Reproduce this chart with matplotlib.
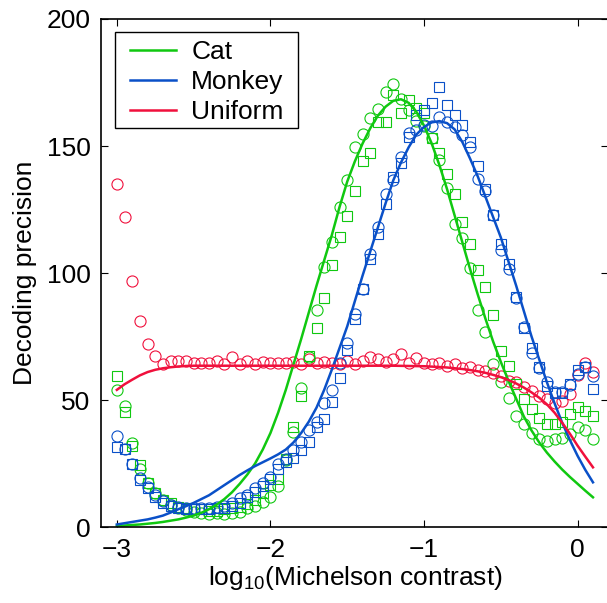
import numpy as np
import matplotlib
matplotlib.use('Agg')
import matplotlib.pyplot as plt
from matplotlib.patches import Rectangle

plt.rcParams['font.family'] = ['Liberation Sans', 'DejaVu Sans']
plt.rcParams['mathtext.default'] = 'regular'

# measurement grid, log10 contrast (-3.0 ... 0.1 in steps of 0.05)
contrast = np.linspace(-3.0, 0.1, 63)

uniform_pts = [135, 122, 97, 81, 72, 67.5, 64, 65.5, 65.5, 65.5,
               64.5, 64.5, 64.5, 65.5, 64, 67, 64, 65.5, 64, 65,
               64.5, 64.5, 64.5, 65, 64, 66, 64.5, 65, 64.5, 64,
               65.5, 64, 65.5, 67, 66, 65, 66, 68, 64.5, 66.5,
               64.5, 64, 64.5, 63.5, 64, 62.5, 63, 62, 61.5, 60.5,
               59.5, 57.5, 57, 55, 53.5, 51.5, 50.5, 49, 49.5, 52.5,
               60, 64.5, 61]

cat_circ = [54, 47.5, 33, 22.7, 17.2, 13.3, 10.6, 8.7, 7.4, 6.7,
            6, 5.4, 5, 5.4, 5.1, 5.4, 6, 7.4, 8.3, 10,
            12, 16, 26.4, 37.5, 54.6, 67, 85.4, 102.5, 112.3, 126,
            136.6, 149.5, 154.7, 160.9, 164.4, 171.4, 174.4, 168.4, 164.2, 160,
            158, 153, 144.5, 133.3, 119.3, 113.9, 101.8, 85.4, 76.9, 64.3,
            57, 50.7, 43.7, 40.6, 37.1, 34.5, 34, 34.5, 34.9, 36.6,
            39.5, 38.2, 34.5]

cat_sq = [59.4, 45.4, 31.9, 24.4, 17.4, 13.3, 10.6, 9.3, 8, 7.5,
          7, 7, 6.5, 6.5, 7, 7.5, 8, 9, 10.5, 13.3,
          16.5, 18.8, 26.7, 39.5, 51.6, 67.3, 78.2, 90.3, 103.3, 114.3,
          122.4, 132.4, 144.2, 147.4, 159.3, 159.3, 170, 163, 168.2, 165,
          163, 153, 147.4, 139, 131.3, 120.2, 111.5, 101.2, 94.4, 83.4,
          69.4, 63.4, 56.3, 50.4, 46.4, 42.8, 40.6, 40.7, 41.5, 44.6,
          47.4, 45.6, 43.7]

monkey_circ = [35.7, 30.6, 24.8, 19.2, 15.6, 12.6, 10.4, 8.7, 8, 7.4,
               7.4, 7.4, 7.6, 8, 8.3, 9.6, 11.3, 12.6, 15.2, 17.2,
               19.6, 25, 26.7, 30.3, 33.6, 38.2, 41.5, 48.7, 53.9, 64.4,
               72.3, 83.7, 93.6, 107.3, 118, 131.1, 136.6, 145.6, 155, 156.3,
               158.3, 157.9, 161.3, 159.6, 157.6, 154.3, 149.5, 137.2, 132.4, 122.8,
               109, 101.5, 90.3, 78.9, 68.7, 62.8, 57, 53.2, 53, 55.9,
               60.1, 62.9, 59.5]

monkey_sq = [31.6, 30.6, 24.8, 18.5, 15.2, 11.9, 9.6, 8.3, 7.4, 7,
             7, 7, 7, 7.4, 7.4, 8.3, 9.6, 11.9, 13.9, 16.1,
             18.9, 22.8, 25.7, 27, 30.3, 33.6, 39.5, 42.4, 49.3, 58.5,
             69.7, 81.8, 93.6, 105.4, 115.5, 127, 137.7, 143.2, 153.4, 162.2,
             164, 167.1, 173.4, 166, 162.2, 158.3, 151.5, 142, 133, 123,
             111.4, 103.5, 90.7, 78.5, 70.5, 63, 55.4, 52.8, 52.9, 56.3,
             61.8, 62.9, 54.4]

# fitted curves on the same grid
cat_fit = [0.5, 0.6, 0.8, 1.0, 1.3, 1.6, 2.0, 2.5, 3.0, 3.7,
           4.5, 5.6, 7.0, 8.8, 11, 13.7, 17, 20.7, 25, 30.5,
           37, 45, 54, 64, 74, 84.5, 95, 105, 115, 126,
           136, 144, 151, 157, 162, 165.5, 167.8, 168.4, 167, 163.5,
           158, 151, 142.5, 133, 122.5, 112, 101.5, 91.5, 82, 73,
           65, 57.5, 50.5, 43.5, 38, 33.3, 29.3, 25.8, 22.6, 19.7,
           17, 14.3, 11.7]
monkey_fit = [1, 1.5, 2, 2.5, 3, 3.7, 4.5, 5.7, 7, 8.2,
              9.5, 11, 12.5, 14.5, 16.5, 18.5, 20.5, 22.3, 24, 25.5,
              27, 28.6, 30.5, 33.3, 37, 41.5, 47, 54, 62, 70.5,
              79, 89, 99, 108.5, 118, 127.5, 136.5, 143.5, 149.5, 154.5,
              157.5, 159.3, 159.8, 159, 156.5, 151.5, 145, 138, 130, 122,
              114, 104.5, 95, 85, 75, 66, 57, 48.7, 41, 34.2,
              28, 22.5, 17.6]
uniform_fit = [54, 56.2, 58, 59.7, 61, 61.9, 62.5, 62.9, 63.2, 63.4,
               63.5, 63.5, 63.5, 63.5, 63.5, 63.5, 63.5, 63.5, 63.5, 63.5,
               63.5, 63.5, 63.5, 63.5, 63.5, 63.5, 63.5, 63.5, 63.5, 63.5,
               63.5, 63.5, 63.5, 63.5, 63.5, 63.5, 63.5, 63.45, 63.4, 63.35,
               63.3, 63.15, 63, 62.8, 62.5, 62.2, 61.8, 61.3, 60.7, 59.9,
               59, 57.9, 56.5, 54.9, 53, 50.9, 48.3, 45, 41, 36.7,
               32, 27.7, 23.5]

green = '#10c810'
blue = '#0a50c8'
red = '#f0103c'

fig = plt.figure(figsize=(6.07, 6.03), dpi=100)
ax = fig.add_axes([0.1672, 0.126, 0.835, 0.8425])

mk = dict(linestyle='none', markerfacecolor='none', markeredgewidth=0.8)
ax.plot(contrast, uniform_pts, marker='o', markersize=8, color=red, **mk)
ax.plot(contrast, cat_circ, marker='o', markersize=8, color=green, **mk)
ax.plot(contrast, cat_sq, marker='s', markersize=6.5, color=green, **mk)
ax.plot(contrast, monkey_circ, marker='o', markersize=8, color=blue, **mk)
ax.plot(contrast, monkey_sq, marker='s', markersize=6.5, color=blue, **mk)

ax.plot(contrast, cat_fit, color=green, lw=1.8, label='Cat')
ax.plot(contrast, monkey_fit, color=blue, lw=1.8, label='Monkey')
ax.plot(contrast, uniform_fit, color=red, lw=1.8, label='Uniform')

ax.set_xlim(-3.1, 0.2)
ax.set_ylim(0, 200)
ax.set_xticks([-3, -2, -1, 0])
ax.set_yticks([0, 50, 100, 150, 200])
ax.tick_params(direction='in', top=True, right=True, length=5, width=0.8,
               labelsize=19, pad=8)
for s in ax.spines.values():
    s.set_linewidth(1.2)

ax.set_xlabel('log$_{10}$(Michelson contrast)', fontsize=19, labelpad=1)
ax.set_ylabel('Decoding precision', fontsize=19, labelpad=7)

# legend box drawn by hand (wider side padding than matplotlib's)
box = Rectangle((115 / 607, 1 - 128 / 603), 183 / 607, 96 / 603,
                transform=fig.transFigure, facecolor='white',
                edgecolor='black', linewidth=1.0, zorder=4)
ax.add_patch(box)
leg = ax.legend(loc='upper left', bbox_to_anchor=(0.0562, 0.959), borderaxespad=0,
                fontsize=19, handlelength=1.75, handletextpad=0.57,
                labelspacing=0.24, borderpad=0, frameon=False)
leg.set_zorder(5)

plt.savefig('out.png', dpi=100)
plt.close()
